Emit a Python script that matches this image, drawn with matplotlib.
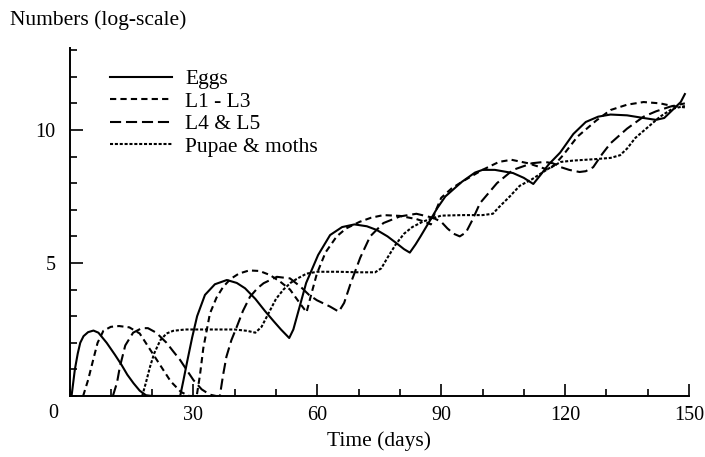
import matplotlib.pyplot as plt
from matplotlib.ticker import MultipleLocator, FixedLocator

plt.rcParams['font.family'] = 'Liberation Serif'
plt.rcParams['lines.scale_dashes'] = False

# values (days, log numbers)
eggs_day = [0.5, 1.3, 2.0, 2.6, 3.4, 4.5, 5.8, 7.0, 9.0, 11.0, 12.6, 14.0, 15.5, 17.0, 18.5, 20,
            26.8, 27.6, 28.5, 29.7, 30.9, 32.8, 35.2, 38.1, 40.5, 42.5, 45, 47.3, 49.5, 51.2, 53.2,
            54.2, 55.8, 57.3, 60.2, 63.1, 66, 69, 72, 74.4, 77, 79.2, 81, 82.4, 83.8, 85, 87.3, 89,
            91, 95, 98.2, 100, 103, 107.4, 110, 112.3, 114, 116, 118.8, 122, 125, 128, 131, 135,
            139, 142, 144, 146, 148, 149]
eggs = [0, 1.0, 1.6, 2.0, 2.25, 2.4, 2.46, 2.38, 2.0, 1.55, 1.17, 0.8, 0.48, 0.2, 0.03, 0,
        0, 0.6, 1.3, 2.2, 3.0, 3.8, 4.2, 4.36, 4.25, 4.05, 3.65, 3.2, 2.8, 2.5, 2.18,
        2.5, 3.4, 4.25, 5.3, 6.05, 6.35, 6.45, 6.38, 6.24, 6.0, 5.74, 5.52, 5.39, 5.7, 6.0, 6.6, 7.05,
        7.5, 8.05, 8.4, 8.5, 8.5, 8.38, 8.2, 7.97, 8.3, 8.7, 9.15, 9.85, 10.3, 10.5, 10.58, 10.55,
        10.45, 10.38, 10.45, 10.75, 11.05, 11.35]

l13_day = [3.3, 4.5, 5.8, 6.8, 8.2, 10, 12, 14.5, 17, 19.5, 22, 24.5, 27, 29, 30.8, 31.6, 32.4,
           34, 35.6, 37.2, 39, 41, 43.5, 46, 48.5, 51, 53.4, 55.8, 57.4, 58.5, 59.9, 62, 64.7, 67,
           70.3, 73, 76, 80, 84, 86, 87.5, 88.5, 90, 92.5, 95, 100, 104, 107, 111, 114, 116, 117.5,
           119.5, 123, 127.5, 131, 135, 139, 143, 146, 149]
l13 = [0, 0.6, 1.4, 2.0, 2.45, 2.6, 2.63, 2.58, 2.35, 1.75, 1.15, 0.55, 0.15, 0, 0, 0.8, 1.8,
       3.1, 3.7, 4.1, 4.4, 4.6, 4.72, 4.7, 4.55, 4.3, 4.0, 3.48, 3.15, 3.8, 4.6, 5.4, 6.0, 6.3,
       6.55, 6.7, 6.8, 6.77, 6.65, 6.55, 6.45, 6.9, 7.45, 7.8, 8.05, 8.5, 8.8, 8.88, 8.75, 8.6, 8.5, 8.7,
       9.05, 9.75, 10.35, 10.75, 10.95, 11.05, 11.0, 10.9, 10.85]

l45_day = [10.5, 11.5, 12.2, 13.5, 15.4, 17.5, 19, 21, 23.5, 25, 26.8, 28.5, 30, 32, 34, 35.5,
           36.4, 37.2, 38, 39.2, 40.5, 42, 43.7, 45.5, 47, 50.2, 53.4, 56, 58, 59.9, 63.1, 65.2,
           66.5, 68, 70.4, 72.8, 76, 80, 84, 88, 90, 91.5, 93, 94.5, 96, 97.5, 99.4, 103.5, 107.4,
           112, 115, 117, 119, 121, 123.5, 125, 126.8, 129, 131, 135, 139, 142, 145.5, 149]
l45 = [0, 0.5, 1.1, 1.9, 2.38, 2.55, 2.55, 2.38, 2.0, 1.7, 1.35, 0.95, 0.6, 0.25, 0.05, 0,
       0, 0.8, 1.48, 2.1, 2.6, 3.2, 3.73, 4.05, 4.24, 4.48, 4.42, 4.1, 3.8, 3.6, 3.36, 3.17,
       3.5, 4.2, 5.2, 6.0, 6.5, 6.75, 6.85, 6.7, 6.55, 6.3, 6.1, 6.0, 6.15, 6.6, 7.25, 8.0, 8.5,
       8.75, 8.8, 8.75, 8.6, 8.5, 8.42, 8.45, 8.6, 9.1, 9.5, 10.05, 10.5, 10.7, 10.88, 11.0]

pupae_day = [17.6, 18.5, 19.5, 20.5, 22, 23.5, 25.1, 28, 35, 40, 43, 45, 46.5, 48.5, 50, 51.8,
             53.5, 55, 57.4, 60, 65, 70, 74, 75.5, 77, 79, 81, 83, 85.5, 87.3, 90, 95, 100, 102.5,
             104, 106.6, 109, 112, 116, 119, 122, 127, 131, 133.3, 135, 137, 140, 143, 146, 149]
pupae = [0, 0.5, 1.1, 1.6, 2.1, 2.35, 2.45, 2.5, 2.5, 2.5, 2.45, 2.38, 2.6, 3.2, 3.65, 4.0,
         4.25, 4.4, 4.6, 4.67, 4.67, 4.65, 4.65, 4.8, 5.2, 5.7, 6.1, 6.35, 6.55, 6.65, 6.78, 6.8, 6.8, 6.85,
         7.1, 7.5, 7.9, 8.15, 8.55, 8.8, 8.85, 8.9, 8.95, 9.05, 9.3, 9.7, 10.1, 10.5, 10.8, 10.9]

fig = plt.figure(figsize=(7.05, 4.57), dpi=100)
ax = fig.add_axes([69.5/705, 1-396/457, (689-69.5)/705, 348.5/457])

lw = 1.5
ax.plot(eggs_day, eggs, c='k', lw=lw, ls='-', label='Eggs')
ax.plot(l13_day, l13, c='k', lw=lw, dashes=(4.5, 3), label='L1 - L3')
ax.plot(l45_day, l45, c='k', lw=lw, dashes=(8, 3.5), label='L4 & L5')
ax.plot(pupae_day, pupae, c='k', lw=lw, dashes=(2.2, 1.3), label='Pupae & moths')

ax.set_xlim(0, 150)
ax.set_ylim(0, 13.1)
ax.spines['top'].set_visible(False)
ax.spines['right'].set_visible(False)
for s in ['left', 'bottom']:
    ax.spines[s].set_linewidth(1.4)

ax.xaxis.set_major_locator(FixedLocator([30, 60, 90, 120, 150]))
ax.xaxis.set_minor_locator(MultipleLocator(10))
ax.yaxis.set_major_locator(FixedLocator([5, 10]))
ax.yaxis.set_minor_locator(MultipleLocator(1))
ax.tick_params(which='both', direction='in', width=1.2, labelsize=14.5)
ax.tick_params(which='major', length=9)
ax.tick_params(which='minor', length=5)
ax.tick_params(axis='y', pad=10)
ax.tick_params(axis='x', pad=7)
ax.annotate('0', xy=(0, 0), xycoords='data', xytext=(-12, -6), textcoords='offset points',
            ha='center', va='top', fontsize=14.5)

ax.set_xlabel('Time (days)', fontsize=15.5, labelpad=5)
fig.text(10/705, 1-20/457, 'Numbers (log-scale)', fontsize=15.5, va='center', ha='left')

ax.legend(loc='upper left', bbox_to_anchor=(110/705, 1-69/457), bbox_transform=fig.transFigure,
          frameon=False, fontsize=15.5, handlelength=2.9, handletextpad=0.6,
          labelspacing=0.12, borderpad=0, borderaxespad=0)

plt.savefig('out.png', dpi=100)
